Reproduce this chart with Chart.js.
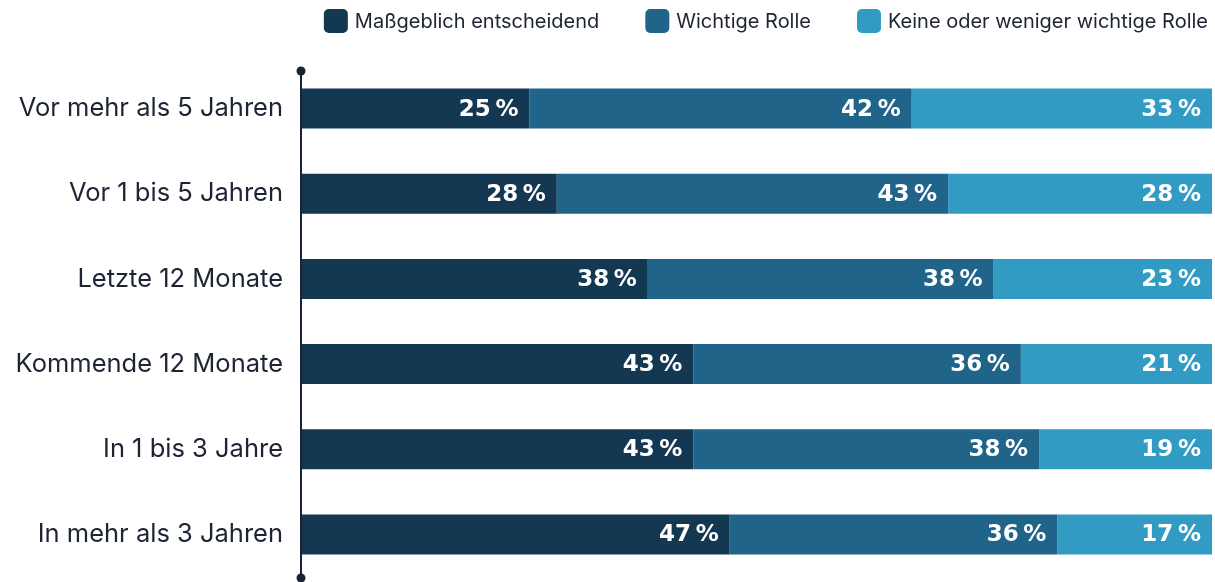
<!DOCTYPE html>
<html>
<head>
<meta charset="utf-8">
<script src="https://cdn.jsdelivr.net/npm/chart.js@4.4.1/dist/chart.umd.min.js"></script>
<style>
  html, body { margin: 0; padding: 0; background: #fff; }
  #wrap { width: 1215px; height: 582px; }
</style>
</head>
<body>
<div id="wrap"><canvas id="chart"></canvas></div>
<script>
// categories and series
var categories = ["Vor mehr als 5 Jahren", "Vor 1 bis 5 Jahren", "Letzte 12 Monate", "Kommende 12 Monate", "In 1 bis 3 Jahre", "In mehr als 3 Jahren"];
var seriesNames = ["Maßgeblich entscheidend", "Wichtige Rolle", "Keine oder weniger wichtige Rolle"];
var seriesColors = ["#143852", "#21648a", "#329bc4"];

// bar lengths and printed labels
var valMassgeblich = [25, 28, 38, 43, 43, 47];
var valWichtig = [42, 43, 38, 36, 38, 36];
var valKeine = [33, 29, 24, 21, 19, 17];
var lblMassgeblich = [25, 28, 38, 43, 43, 47];
var lblWichtig = [42, 43, 38, 36, 38, 36];
var lblKeine = [33, 28, 23, 21, 19, 17];

var allLabels = [lblMassgeblich, lblWichtig, lblKeine];
var textColor = '#1d2433';

// value labels inside the bar ends
var barLabels = {
    id: 'barLabels',
    afterDatasetsDraw: function (chart) {
        var ctx = chart.ctx;
        ctx.save();
        ctx.font = 'bold 23px "DejaVu Sans"';
        ctx.fillStyle = '#ffffff';
        ctx.textAlign = 'right';
        ctx.textBaseline = 'middle';
        chart.data.datasets.forEach(function (ds, i) {
            var meta = chart.getDatasetMeta(i);
            meta.data.forEach(function (bar, j) {
                ctx.fillText(allLabels[i][j] + '\u2009%', bar.x - 11, bar.y + 1);
            });
        });
        ctx.restore();
    }
};

// vertical axis line with round ends
var axisLine = {
    id: 'axisLine',
    afterDraw: function (chart) {
        var ctx = chart.ctx;
        var x = chart.chartArea.left - 1;
        var top = 71, bottom = 578;
        ctx.save();
        ctx.strokeStyle = '#1b2333';
        ctx.fillStyle = '#1b2333';
        ctx.lineWidth = 2;
        ctx.beginPath();
        ctx.moveTo(x, top);
        ctx.lineTo(x, bottom);
        ctx.stroke();
        ctx.beginPath();
        ctx.arc(x, top, 4.5, 0, Math.PI * 2);
        ctx.fill();
        ctx.beginPath();
        ctx.arc(x, bottom, 4.5, 0, Math.PI * 2);
        ctx.fill();
        ctx.restore();
    }
};

// legend at top right
var topLegend = {
    id: 'topLegend',
    afterDraw: function (chart) {
        var ctx = chart.ctx;
        ctx.save();
        ctx.font = '20px Inter';
        ctx.textBaseline = 'middle';
        ctx.textAlign = 'left';
        var box = 24, gap = 7, spacing = 46;
        var widths = seriesNames.map(function (t) { return box + gap + ctx.measureText(t).width; });
        var total = widths.reduce(function (a, b) { return a + b; }, 0) + spacing * (seriesNames.length - 1);
        var x = chart.width - 7 - total;
        var y = 21;
        seriesNames.forEach(function (t, i) {
            ctx.fillStyle = seriesColors[i];
            ctx.beginPath();
            ctx.roundRect(x, y - box / 2, box, box, 5);
            ctx.fill();
            ctx.fillStyle = textColor;
            ctx.fillText(t, x + box + gap, y + 1);
            x += widths[i] + spacing;
        });
        ctx.restore();
    }
};

var ctx = document.getElementById("chart").getContext('2d');
var chart = new Chart(ctx, {
    type: 'bar',
    data: {
        labels: categories,
        datasets: [
            { label: seriesNames[0], data: valMassgeblich, backgroundColor: seriesColors[0] },
            { label: seriesNames[1], data: valWichtig, backgroundColor: seriesColors[1] },
            { label: seriesNames[2], data: valKeine, backgroundColor: seriesColors[2] }
        ]
    },
    options: {
        indexAxis: 'y',
        responsive: true,
        maintainAspectRatio: false,
        animation: false,
        layout: {
            padding: { top: 66, right: 3, bottom: 5, left: 0 }
        },
        datasets: {
            bar: {
                categoryPercentage: 1,
                barPercentage: 0.47,
                borderWidth: 0
            }
        },
        scales: {
            x: {
                stacked: true,
                min: 0,
                max: 100,
                display: false
            },
            y: {
                stacked: true,
                grid: { display: false, drawTicks: false },
                border: { display: false },
                ticks: {
                    padding: 19,
                    color: textColor,
                    font: { family: 'Inter', size: 25.5 }
                },
                afterFit: function (scale) {
                    scale.width = 302;
                    scale.paddingTop = 0;
                    scale.paddingBottom = 0;
                }
            }
        },
        plugins: {
            legend: { display: false },
            tooltip: { enabled: false }
        }
    },
    plugins: [barLabels, axisLine, topLegend]
});
</script>
</body>
</html>
